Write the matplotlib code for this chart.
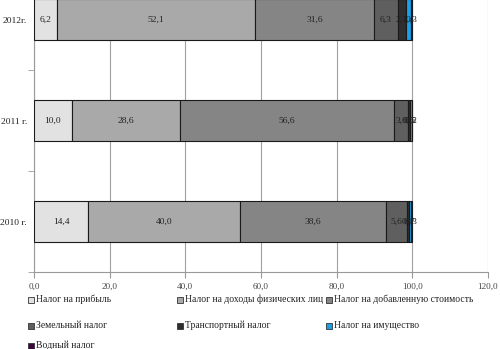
import matplotlib
matplotlib.use("Agg")
import matplotlib.pyplot as plt
from matplotlib.patches import Rectangle
import numpy as np

plt.rcParams['font.family'] = ['Liberation Serif', 'DejaVu Serif']

years = ["2010 г.", "2011 г.", "2012г."]
series_names = [
    "Налог на прибыль",
    "Налог на доходы физических лиц",
    "Налог на добавленную стоимость",
    "Земельный налог",
    "Транспортный налог",
    "Налог на имущество",
    "Водный налог",
]
profit_tax = [14.4, 10.0, 6.2]
income_tax = [40.0, 28.6, 52.1]
vat = [38.6, 56.6, 31.6]
land_tax = [5.6, 3.6, 6.3]
transport_tax = [0.4, 0.5, 2.1]
property_tax = [0.7, 0.5, 1.4]
water_tax = [0.3, 0.2, 0.3]
x_ticks = [0, 20, 40, 60, 80, 100, 120]

series = [profit_tax, income_tax, vat, land_tax, transport_tax, property_tax, water_tax]
colors = ["#e2e2e2", "#a9a9a9", "#858585", "#5f5f5f", "#2f2f2f", "#1aa0e8", "#3c0a3c"]

fig = plt.figure(figsize=(5.0, 3.49), dpi=100)
ax = fig.add_axes([0.068, 0.2206, 0.908, 0.868])

y = np.arange(len(years))
left = np.zeros(len(years))
for vals, col in zip(series, colors):
    vals = np.array(vals)
    bars = ax.barh(y, vals, left=left, height=0.4, color=col,
                   edgecolor="#1a1a1a", linewidth=0.8, zorder=3)
    for b, v in zip(bars, vals):
        ax.text(b.get_x() + b.get_width() / 2, b.get_y() + b.get_height() / 2,
                f"{v:.1f}".replace(".", ","), ha="center", va="center",
                fontsize=6.8, color="#222222", zorder=4)
    left += vals

ax.set_xlim(0, 120)
ax.set_ylim(-0.5, 2.5)
ax.set_xticks(x_ticks)
ax.set_xticklabels([f"{t:.1f}".replace(".", ",") for t in x_ticks],
                   fontsize=6.6, color="#444444")
ax.set_yticks(y)
ax.set_yticklabels(years, fontsize=6.8, color="#222222")
ax.set_yticks([-0.5, 0.5, 1.5], minor=True)
ax.tick_params(axis="y", which="major", length=0, pad=5)
ax.tick_params(axis="y", which="minor", length=4, color="#999999")
ax.tick_params(axis="x", length=4, color="#999999", pad=4)
ax.grid(axis="x", color="#a0a0a0", linewidth=0.8, zorder=0)
for s in ["top", "right"]:
    ax.spines[s].set_visible(False)
for s in ["left", "bottom"]:
    ax.spines[s].set_color("#999999")
    ax.spines[s].set_linewidth(0.8)

# legend laid out in a fixed three-column grid
W, H = 500.0, 349.0
col_x = [28, 177, 326]
row_y = [299, 325, 345]
for i, (name, col) in enumerate(zip(series_names, colors)):
    r, c = divmod(i, 3)
    px, py = col_x[c], row_y[r]
    fig.patches.append(Rectangle((px / W, 1 - (py + 3.5) / H), 6 / W, 6 / H,
                                 transform=fig.transFigure, facecolor=col,
                                 edgecolor="#333333", linewidth=0.6))
    fig.text((px + 8) / W, 1 - py / H, name, fontsize=6.9, va="center",
             ha="left", color="#222222")

fig.savefig("out.png", dpi=100)
